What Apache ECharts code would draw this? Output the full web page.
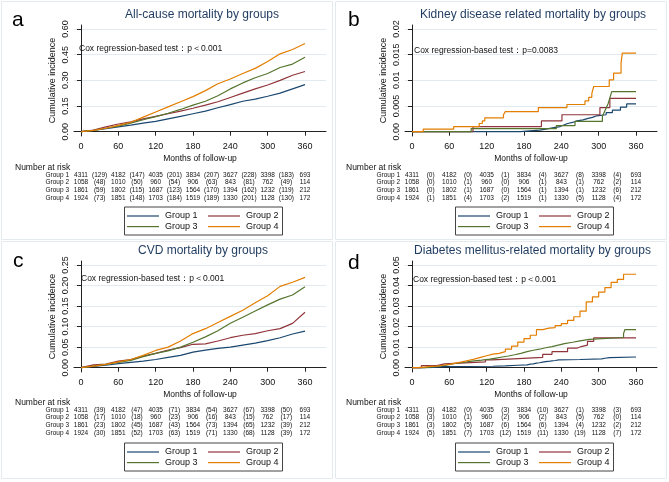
<!DOCTYPE html>
<html><head><meta charset="utf-8">
<script src="https://cdn.jsdelivr.net/npm/echarts@6/dist/echarts.min.js"></script>
<style>html,body{margin:0;padding:0;background:#fff}#c{width:669px;height:482px}</style>
</head><body><div id="c"></div>
<script>
// ---------------- DATA ----------------
const groups = ['Group 1','Group 2','Group 3','Group 4'];
const colors = ['#1a476f','#90353b','#55752f','#e37e00'];
const titles = ['All-cause mortality by groups','Kidney disease related mortality by groups','CVD mortality by groups','Diabetes mellitus-related mortality by groups'];
const letters = ['a','b','c','d'];
const pTexts = ['Cox regression-based test：p＜0.001','Cox regression-based test：p=0.0083','Cox regression-based test：p＜0.001','Cox regression-based test：p＜0.001'];
const xTicks = [0,60,120,180,240,300,360];
const riskTimes = [0,60,120,180,240,300,360];
const eventTimes = [30,90,150,210,270,330];
const yTicksA = [0,0.15,0.30,0.45,0.60];
const yTicksB = [0,0.005,0.01,0.015,0.02];
const yTicksC = [0,0.05,0.10,0.15,0.20,0.25];
const yTicksD = [0,0.01,0.02,0.03,0.04,0.05];
const yLabelsA = ['0.00','0.15','0.30','0.45','0.60'];
const yLabelsB = ['0.00','0.005','0.01','0.015','0.02'];
const yLabelsC = ['0.00','0.05','0.10','0.15','0.20','0.25'];
const yLabelsD = ['0.00','0.01','0.02','0.03','0.04','0.05'];

// Panel a: all-cause mortality (months every 20)
const monthsA = [0,20,40,60,80,100,120,140,160,180,200,220,240,260,280,300,320,340,360];
const allG1 = [0,0.008,0.018,0.028,0.038,0.05,0.06,0.075,0.09,0.105,0.12,0.14,0.158,0.178,0.19,0.207,0.225,0.25,0.275];
const allG2 = [0,0.01,0.028,0.045,0.057,0.075,0.09,0.105,0.12,0.137,0.155,0.175,0.2,0.225,0.25,0.273,0.3,0.33,0.352];
const allG3 = [0,0.008,0.02,0.033,0.05,0.07,0.088,0.108,0.13,0.155,0.178,0.21,0.25,0.285,0.315,0.34,0.375,0.395,0.435];
const allG4 = [0,0.008,0.02,0.037,0.055,0.085,0.115,0.145,0.175,0.205,0.24,0.28,0.308,0.34,0.37,0.41,0.455,0.48,0.515];

// Panel b: kidney disease (step times / values)
const kidT1 = [0,174,205,215,228,238,244,250,258,265,275,283,290,297,312,322,335,345,360];
const kidV1 = [0,0.0003,0.0005,0.0008,0.001,0.0013,0.0016,0.0018,0.0021,0.0023,0.0026,0.0028,0.0031,0.0033,0.0037,0.0042,0.0048,0.0054,0.0054];
const kidT2 = [0,98,208,241,302,318,360];
const kidV2 = [0,0.001,0.0021,0.0033,0.0047,0.0065,0.0065];
const kidT3 = [0,95,232,262,306,309,312,315,318,321,360];
const kidV3 = [0,0.0006,0.0012,0.002,0.003,0.0038,0.0046,0.0054,0.0066,0.0078,0.0078];
const kidT4 = [0,18,67,108,113,117,147,150,203,249,278,284,289,292,317,324,336,338,360];
const kidV4 = [0,0.0005,0.001,0.0016,0.0021,0.0027,0.0033,0.0039,0.0047,0.0053,0.006,0.0067,0.0074,0.0088,0.0101,0.0114,0.0134,0.0153,0.0153];

// Panel c: CVD mortality (months every 20)
const monthsC = [0,20,40,60,80,100,120,140,160,180,200,220,240,260,280,300,320,340,360];
const cvdG1 = [0,0.003,0.006,0.01,0.013,0.016,0.02,0.025,0.03,0.038,0.043,0.047,0.05,0.055,0.06,0.066,0.073,0.082,0.089];
const cvdG2 = [0,0.007,0.009,0.016,0.02,0.028,0.035,0.043,0.049,0.057,0.058,0.065,0.073,0.079,0.083,0.09,0.095,0.108,0.135];
const cvdG3 = [0,0.004,0.008,0.013,0.018,0.027,0.035,0.041,0.05,0.062,0.075,0.09,0.108,0.123,0.138,0.153,0.167,0.177,0.197];
const cvdG4 = [0,0.004,0.008,0.014,0.02,0.03,0.042,0.05,0.065,0.083,0.095,0.11,0.125,0.14,0.158,0.175,0.198,0.208,0.22];

// Panel d: diabetes mellitus (step times / values)
const dmT1 = [0,15,35,50,130,150,170,185,190,195,200,205,210,215,222,230,236,270,305,310,318,360];
const dmV1 = [0,0.0002,0.0005,0.0007,0.0009,0.0012,0.0014,0.0017,0.0019,0.0022,0.0024,0.0027,0.003,0.0032,0.0035,0.0038,0.004,0.0043,0.0046,0.0049,0.0052,0.0052];
const dmT2 = [0,15,40,52,118,128,155,210,225,250,265,272,282,292,360];
const dmV2 = [0,0.001,0.0019,0.0028,0.0038,0.0042,0.005,0.0065,0.0078,0.0095,0.0103,0.011,0.0128,0.0145,0.0145];
const dmT3 = [0,20,40,55,65,75,88,100,112,125,135,145,155,165,175,185,195,205,215,225,235,245,258,270,285,340,342,360];
const dmV3 = [0,0.0006,0.0012,0.0018,0.0023,0.0028,0.0033,0.0037,0.0042,0.0047,0.0052,0.0057,0.0063,0.007,0.0078,0.0085,0.009,0.0097,0.0103,0.011,0.0117,0.0124,0.0131,0.0138,0.0147,0.0166,0.0185,0.0185];
const dmT4 = [0,10,20,30,40,50,60,70,80,90,100,110,120,130,140,150,160,170,180,190,200,210,220,230,240,250,260,270,280,290,300,310,320,330,340,350,360];
const dmV4 = [0,0.0003,0.0006,0.0008,0.0012,0.0016,0.0022,0.0028,0.0035,0.0042,0.005,0.0058,0.0066,0.007,0.0078,0.009,0.0105,0.0125,0.0142,0.0158,0.0185,0.0193,0.0195,0.0205,0.0215,0.023,0.0248,0.0275,0.032,0.0345,0.0368,0.039,0.0415,0.043,0.0455,0.0455,0.0455];

// Number at risk tables
const riskA = [[4311,4182,4035,3834,3627,3398,693],[1058,1010,960,906,843,762,114],[1861,1802,1687,1564,1394,1232,212],[1924,1851,1703,1519,1330,1128,172]];
const evA = [[129,147,201,207,228,183],[48,50,54,63,81,49],[59,115,123,170,162,119],[73,148,184,189,201,130]];
const riskB = riskA, riskC = riskA, riskD = riskA;
const evB = [[0,0,1,4,8,4],[0,1,0,1,1,2],[0,1,0,1,1,6],[1,4,2,1,5,4]];
const evC = [[39,47,71,54,67,50],[17,18,23,16,15,17],[23,45,43,73,65,39],[30,52,63,71,68,39]];
const evD = [[3,0,3,10,1,3],[3,1,2,2,5,0],[3,5,6,6,4,2],[5,7,12,11,19,7]];

// ---------------- LAYOUT ----------------
const FONT = '"Liberation Sans", Arial, Helvetica, sans-serif';
const GL = [74, 405, 74, 405], GT = [25, 25, 261, 261], GW = 252, GH = 111;
const X_MIN = -7 * 360 / 224, X_MAX = 360 + 21 * 360 / 224;
const yTicks = [yTicksA, yTicksB, yTicksC, yTicksD];
const yLabels = [yLabelsA, yLabelsB, yLabelsC, yLabelsD];
const risks = [riskA, riskB, riskC, riskD];
const evs = [evA, evB, evC, evD];
const titleX = [202, 533, 203, 532.5], titleY = [16, 16, 252, 252];
const letterX = [12, 348, 13, 348], letterY = [20, 20, 261, 263];
const pX = [79, 414, 81, 413], pY = [48.5, 51, 278.5, 279.5];
const panelBox = [[1.5, 1.5, 331, 238], [335.5, 1.5, 331, 238], [1.5, 241.5, 331, 237], [335.5, 241.5, 331, 237]];
const TEXT = '#111';

function pairs(t, v) { return t.map((m, i) => [m, v[i]]); }
const seriesData = [
  [pairs(monthsA, allG1), pairs(monthsA, allG2), pairs(monthsA, allG3), pairs(monthsA, allG4)],
  [pairs(kidT1, kidV1), pairs(kidT2, kidV2), pairs(kidT3, kidV3), pairs(kidT4, kidV4)],
  [pairs(monthsC, cvdG1), pairs(monthsC, cvdG2), pairs(monthsC, cvdG3), pairs(monthsC, cvdG4)],
  [pairs(dmT1, dmV1), pairs(dmT2, dmV2), pairs(dmT3, dmV3), pairs(dmT4, dmV4)]
];
const stepped = [false, true, false, true];

const grids = [], xAxes = [], yAxes = [], series = [], titleOpts = [];
for (let p = 0; p < 4; p++) {
  grids.push({ left: GL[p], top: GT[p], width: GW, height: GH, containLabel: false });
  xAxes.push({
    gridIndex: p, type: 'value', min: X_MIN, max: X_MAX,
    axisLine: { show: true, lineStyle: { color: '#222', width: 1 } },
    axisTick: { show: true, length: 4, customValues: xTicks, lineStyle: { color: '#222' } },
    axisLabel: { customValues: xTicks, fontSize: 9, color: TEXT, margin: 6, fontFamily: FONT },
    splitLine: { show: false },
    name: 'Months of follow-up', nameLocation: 'middle', nameGap: 18,
    nameTextStyle: { fontSize: 8.5, color: TEXT, fontFamily: FONT }
  });
  const vmax = yTicks[p][yTicks[p].length - 1];
  yAxes.push({
    gridIndex: p, type: 'value', min: -4.3 * vmax / 102.7, max: vmax + 4 * vmax / 102.7,
    axisLine: { show: true, lineStyle: { color: '#222', width: 1 } },
    axisTick: { show: true, length: 4, customValues: yTicks[p], lineStyle: { color: '#222' } },
    axisLabel: {
      customValues: yTicks[p], rotate: 90, margin: 4, fontSize: 9, color: TEXT, fontFamily: FONT,
      formatter: (v) => { const k = yTicks[p].findIndex(t => Math.abs(t - v) < 1e-9); return k >= 0 ? yLabels[p][k] : ''; }
    },
    splitLine: { show: true, lineStyle: { color: '#e1ebef', width: 1 } },
    name: 'Cumulative incidence', nameLocation: 'middle', nameRotate: 90, nameGap: 17,
    nameTextStyle: { fontSize: 9, color: TEXT, fontFamily: FONT }
  });
  for (let g = 0; g < 4; g++) {
    series.push({
      type: 'line', name: groups[g], xAxisIndex: p, yAxisIndex: p,
      data: seriesData[p][g], step: stepped[p] ? 'end' : false,
      showSymbol: false, symbol: 'none', smooth: false,
      lineStyle: { color: colors[g], width: 1.2 }, itemStyle: { color: colors[g] },
      silent: true, z: 3 + g
    });
  }
  titleOpts.push({
    text: titles[p], left: titleX[p], top: titleY[p] - 7, textAlign: 'center', padding: 0,
    textStyle: { fontSize: 12, fontWeight: 'normal', color: '#1e3a5f', fontFamily: FONT }
  });
}

const chart = echarts.init(document.getElementById('c'), null, { renderer: 'canvas' });
chart.setOption({
  animation: false, backgroundColor: '#fff',
  title: titleOpts, grid: grids, xAxis: xAxes, yAxis: yAxes, series: series
});

// ---------- text elements: letters, p-values, risk tables, legends ----------
const gfx = [];
function txt(x, y, s, size, align, extra) {
  gfx.push({ type: 'text', x: x, y: y, silent: true, z: 10,
    style: Object.assign({ text: s, fontSize: size, fill: TEXT, fontFamily: FONT, align: align || 'left', verticalAlign: 'middle' }, extra || {}) });
}
for (let p = 0; p < 4; p++) {
  const b = panelBox[p];
  gfx.push({ type: 'rect', silent: true, z: 0, shape: { x: b[0], y: b[1], width: b[2], height: b[3] },
    style: { fill: 'none', stroke: '#e3ebee', lineWidth: 1 } });
  txt(letterX[p], letterY[p], letters[p], 21, 'left', { fill: '#000' });
  txt(pX[p], pY[p], pTexts[p], 8.5, 'left');
  const bottom = GT[p] + GH;
  const offs = p < 2 ? 0 : -1;
  txt(GL[p] - 59, bottom + 31.5 + offs, 'Number at risk', 8.5, 'left');
  const x0 = chart.convertToPixel({ xAxisIndex: p }, 0);
  for (let g = 0; g < 4; g++) {
    const y = bottom + 39 + offs + g * 7.7;
    txt(x0 - 12, y, groups[g], 6.5, 'right');
    riskTimes.forEach((m, k) => txt(chart.convertToPixel({ xAxisIndex: p }, m), y, String(risks[p][g][k]), 6.5, 'center'));
    eventTimes.forEach((m, k) => txt(chart.convertToPixel({ xAxisIndex: p }, m), y, '(' + evs[p][g][k] + ')', 6.5, 'center'));
  }
  // legend box
  const bx = GL[p] + 50, by = bottom + 70.5, bw = 158, bh = 28;
  gfx.push({ type: 'rect', silent: true, z: 9, shape: { x: bx + 0.5, y: by + 0.5, width: bw, height: bh },
    style: { fill: '#fff', stroke: '#444', lineWidth: 1 } });
  for (let g = 0; g < 4; g++) {
    const col = g % 2, row = Math.floor(g / 2);
    const lx = bx + 3 + col * 81, ly = by + 9.5 + row * 10.6;
    gfx.push({ type: 'line', silent: true, z: 10, shape: { x1: lx, y1: ly, x2: lx + 32, y2: ly },
      style: { stroke: colors[g], lineWidth: 1.2 } });
    txt(lx + 38, ly, groups[g], 9, 'left');
  }
}
chart.setOption({ graphic: gfx });
</script></body></html>
